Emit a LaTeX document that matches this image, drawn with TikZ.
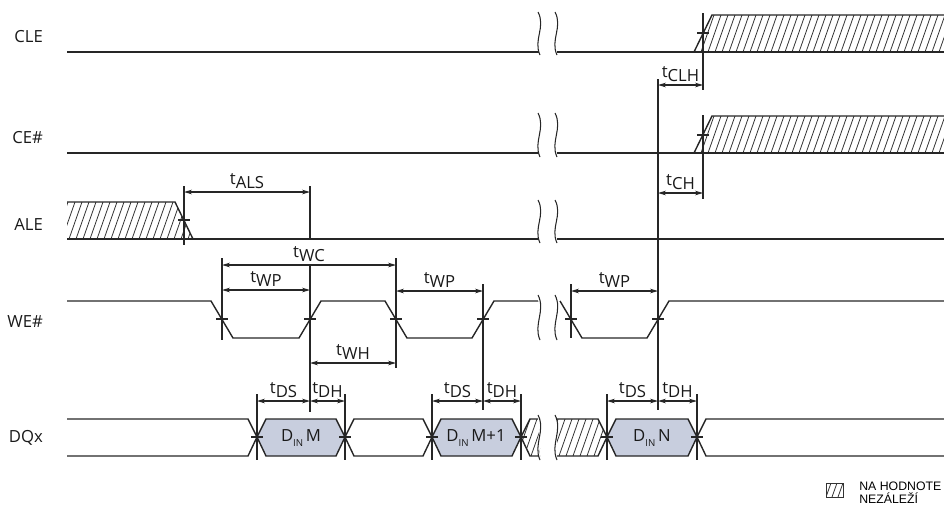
\documentclass[tikz,border=0pt]{standalone}
\usepackage{fontspec}
\setmainfont{Open Sans}
\newfontfamily\legendfont{Liberation Sans}
\usetikzlibrary{arrows.meta,positioning}

\definecolor{dinfill}{RGB}{200,206,222}
\newcommand{\tm}[1]{t\raisebox{-0.45ex}{#1}}
\newcommand{\din}[1]{D\raisebox{-0.6ex}{\fontsize{5.5}{6}\selectfont IN}\,#1}

\begin{document}
\begin{tikzpicture}[x=0.02cm,y=-0.02cm,% one unit = one pixel of the sheet, y downwards
        sig/.style={line width=0.8pt,black!85},
        guide/.style={line width=0.6pt,black!85},
        hatch/.style={line width=0.45pt,black!80},
        dim/.style={line width=0.6pt,black!85,{Stealth[length=4.5pt,width=2.6pt]}-{Stealth[length=4.5pt,width=2.6pt]}},
        lbl/.style={font=\fontsize{9.5}{10}\selectfont,text=black!90,inner sep=1pt},
        signame/.style={lbl,anchor=east}]
\useasboundingbox (0,0) rectangle (944,508);

% signal names
\node[signame] (cle) at (45,37) {CLE};
\node[signame] (ce) at (45,138) {CE\#};
\node[signame] (ale) at (45,225) {ALE};
\node[signame] (we) at (45,322) {WE\#};
\node[signame] (dq) at (45,438) {DQx};

% hatched (don't care) areas
\begin{scope}
\clip (694,52) -- (712,15) -- (944,15) -- (944,52) -- cycle;
\foreach \x in {680,687,...,950} \draw[hatch] (\x,52) -- ++(13,-37);
\end{scope}
\begin{scope}
\clip (694,153) -- (712,116) -- (944,116) -- (944,153) -- cycle;
\foreach \x in {680,687,...,950} \draw[hatch] (\x,153) -- ++(13,-37);
\end{scope}
\begin{scope}
\clip (67,202) -- (175,202) -- (193,239) -- (67,239) -- cycle;
\foreach \x in {55,62,...,200} \draw[hatch] (\x,239) -- ++(13,-37);
\end{scope}
\begin{scope}
\clip (521,437) -- (530,419) -- (540,419) -- (540,456) -- (530,456) -- cycle;
\foreach \x in {510,517,...,545} \draw[hatch] (\x,456) -- ++(13,-37);
\end{scope}
\begin{scope}
\clip (557,419) -- (598,419) -- (607,437) -- (598,456) -- (557,456) -- cycle;
\foreach \x in {545,552,...,610} \draw[hatch] (\x,456) -- ++(13,-37);
\end{scope}

% CLE, CE#, ALE
\draw[sig] (67,52) -- (540,52) (557,52) -- (944,52);
\draw[sig] (694,52) -- (712,15) -- (944,15);
\draw[sig] (67,153) -- (540,153) (557,153) -- (944,153);
\draw[sig] (694,153) -- (712,116) -- (944,116);
\draw[sig] (67,202) -- (175,202) -- (193,239);
\draw[sig] (67,239) -- (540,239) (557,239) -- (944,239);

% WE#
\draw[sig] (67,301) -- (211,301) -- (233,338) -- (299,338) -- (321,301) -- (385,301)
        -- (407,338) -- (472,338) -- (494,301) -- (540,301);
\draw[sig] (560,301) -- (582,338) -- (647,338) -- (669,301) -- (944,301);

% DQx
\draw[sig] (67,419) -- (248,419) -- (257,437) -- (248,456) -- (67,456);
\draw[sig,fill=dinfill] (257,437) -- (266,419) -- (336,419) -- (345,437) -- (336,456) -- (266,456) -- cycle;
\draw[sig] (345,437) -- (354,419) -- (423,419) -- (432,437) -- (423,456) -- (354,456) -- cycle;
\draw[sig,fill=dinfill] (432,437) -- (441,419) -- (512,419) -- (521,437) -- (512,456) -- (441,456) -- cycle;
\draw[sig] (540,419) -- (530,419) -- (521,437) -- (530,456) -- (540,456);
\draw[sig] (557,419) -- (598,419) -- (607,437) -- (598,456) -- (557,456);
\draw[sig,fill=dinfill] (607,437) -- (616,419) -- (688,419) -- (697,437) -- (688,456) -- (616,456) -- cycle;
\draw[sig] (944,419) -- (706,419) -- (697,437) -- (706,456) -- (944,456);
\node[lbl] (dinM) at (301,438) {\din{M}};
\node[lbl] (dinM1) at (476,438) {\din{M+1}};
\node[lbl] (dinN) at (652,438) {\din{N}};

% breaks
\foreach \xs in {540,557}
  \foreach \ya/\yb in {12/55,113/157,200/243,295/340,415/460}
    \draw[guide,fill=white] (\xs-2,\ya) .. controls (\xs+6,\ya+0.35*\yb-0.35*\ya) and (\xs-7,\yb-0.35*\yb+0.35*\ya) .. (\xs,\yb);

% reference lines
\foreach \x/\ya/\yb in {184/186/245,310/186/239,310/266/412,222/258/340,396/258/368,
        483/284/410,571/284/338,658/79/410,703/13/90,703/115/199,
        257/394/460,345/394/460,432/394/460,521/394/460,607/394/460,697/394/460}
  \draw[guide] (\x,\ya) -- (\x,\yb);
\foreach \x/\y in {184/220,222/319,310/319,396/319,483/319,571/319,658/319,703/33,703/135,
        257/437,345/437,432/437,521/437,607/437,697/437}
  \draw[guide] (\x-6,\y) -- (\x+6,\y);

% timing parameters
\foreach \n/\a/\b/\y/\s in {ALS/184/310/192/ALS,WC/222/396/265/WC,WPa/222/310/290/WP,
        WH/310/396/363/WH,WPb/396/483/291/WP,DSa/257/310/401/DS,DHa/310/345/401/DH,
        DSb/432/483/401/DS,DHb/483/521/401/DH,WPc/571/658/291/WP,DSc/607/658/401/DS,
        DHc/658/697/401/DH,CLH/658/703/85/CLH,CH/658/703/193/CH}{
  \coordinate (\n-l) at (\a,\y);
  \coordinate (\n-r) at (\b,\y);
  \draw[dim] (\n-l) -- (\n-r) node[lbl,midway,above=0.5pt] (\n) {\tm{\s}};
}

% legend
\begin{scope}
\clip (826,483) rectangle (843,497);
\foreach \x in {820,826,...,846} \draw[hatch] (\x,497) -- ++(5,-14);
\end{scope}
\draw[hatch] (826,483) rectangle (843,497);
\node[anchor=west,align=left,inner sep=0pt,font=\legendfont\fontsize{7}{6}\selectfont] (legend) at (859,493) {NA HODNOTE\\NEZÁLEŽÍ};
\end{tikzpicture}
\end{document}
